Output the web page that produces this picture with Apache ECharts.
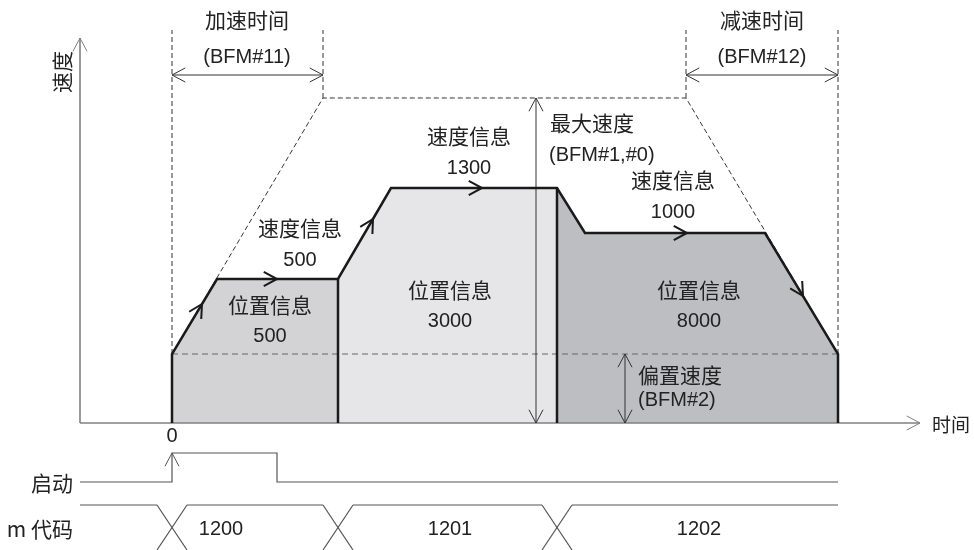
<!DOCTYPE html>
<html>
<head>
<meta charset="utf-8">
<script src="https://cdn.jsdelivr.net/npm/echarts@6/dist/echarts.min.js"></script>
<style>
  html, body { margin: 0; padding: 0; background: #fff; }
  #chart { width: 974px; height: 550px; }
</style>
</head>
<body>
<div id="chart"></div>
<script>
// 速度曲线 (时间, 速度)，图示单位
const profileTime  = [0, 0, 45, 166, 219, 385, 413, 593, 666, 666];
const profileSpeed = [0, 69, 144, 144, 235, 235, 190, 190, 69, 0];
const segmentBounds = [0, 166, 385, 666];   // 各段起止时间
const biasSpeed = 69;
const maxSpeed = 325;
const accelEnd = 151;       // 加速时间结束
const decelStart = 514;     // 减速时间开始
const positionInfo = ['500', '3000', '8000'];
const speedInfo = ['500', '1300', '1000'];
const mCodes = ['1200', '1201', '1202'];
const startPulse = [0, 105];   // 启动 ON / OFF

// 布局 (不是数据)
const regionColors = ['#d3d3d5', '#e6e6e8', '#bdbec1'];
const posLabelAt = [[98, 118], [278, 133], [527, 133]];
const speedLabelAt = [[128, 195], [297, 287], [501, 243]];
const mCodeLabelT = [49, 278, 527];
const axisT = -92, axisTop = 385, axisRight = 748, dashTop = 393, spanArrowV = 348;
const lowV = -59, highV = -30, mTop = -82, mBot = -127, mHalf = 15;

const profile = profileTime.map((t, i) => [t, profileSpeed[i]]);

// 三段区域
const regions = [];
for (let i = 0; i < segmentBounds.length - 1; i++) {
  const a = segmentBounds[i], b = segmentBounds[i + 1];
  const pts = profile.filter(p => p[0] >= a && p[0] <= b && p[1] > 0);
  regions.push([[a, 0]].concat(pts, [[b, 0]]));
}

const thin = '#333';
const dash = [5, 3];
const lines = [
  // 坐标轴
  { pts: [[axisT, 0], [axisT, axisTop]], color: '#808080', width: 1.6 },
  { pts: [[axisT, 0], [axisRight, 0]], color: '#808080', width: 1.6 },
  // 偏置速度虚线
  { pts: [[0, biasSpeed], [segmentBounds[3], biasSpeed]], color: '#666', width: 1.2, dash: [6, 4] },
  // 梯形虚线
  { pts: [[0, biasSpeed], [accelEnd, maxSpeed], [decelStart, maxSpeed], [segmentBounds[3], biasSpeed]], color: thin, width: 1, dash: dash },
  { pts: [[0, biasSpeed], [0, dashTop]], color: thin, width: 1, dash: dash },
  { pts: [[accelEnd, maxSpeed], [accelEnd, dashTop]], color: thin, width: 1, dash: dash },
  { pts: [[decelStart, maxSpeed], [decelStart, dashTop]], color: thin, width: 1, dash: dash },
  { pts: [[segmentBounds[3], biasSpeed], [segmentBounds[3], dashTop]], color: thin, width: 1, dash: dash },
  // 尺寸箭头线
  { pts: [[0, spanArrowV], [accelEnd, spanArrowV]], color: thin, width: 1 },
  { pts: [[decelStart, spanArrowV], [segmentBounds[3], spanArrowV]], color: thin, width: 1 },
  { pts: [[364, 0], [364, maxSpeed]], color: thin, width: 1 },
  { pts: [[453, 0], [453, biasSpeed]], color: thin, width: 1 },
  // 速度曲线轮廓
  { pts: profile, color: '#1a1a1a', width: 2.5 },
  { pts: [[segmentBounds[1], 0], [segmentBounds[1], profileSpeed[3]]], color: '#1a1a1a', width: 2.5 },
  { pts: [[segmentBounds[2], 0], [segmentBounds[2], profileSpeed[5]]], color: '#1a1a1a', width: 2.5 },
  // 启动
  { pts: [[axisT, lowV], [startPulse[0], lowV], [startPulse[0], highV], [startPulse[1], highV], [startPulse[1], lowV], [segmentBounds[3], lowV]], color: '#555', width: 1.2 }
];
// m代码
const cross = segmentBounds.slice(0, 3);
let prev = axisT;
cross.forEach(c => {
  lines.push({ pts: [[prev, mTop], [c - mHalf, mTop]], color: '#555', width: 1.2 });
  lines.push({ pts: [[c - mHalf, mTop], [c + mHalf, mBot]], color: '#555', width: 1.2 });
  lines.push({ pts: [[c + mHalf, mTop], [c - mHalf, mBot]], color: '#555', width: 1.2 });
  prev = c + mHalf;
});
lines.push({ pts: [[prev, mTop], [segmentBounds[3], mTop]], color: '#555', width: 1.2 });

// 箭头 (from -> to, to 为箭头尖)
const heads = [
  { from: [axisT, 0], to: [axisT, axisTop], color: '#808080' },
  { from: [axisT, 0], to: [axisRight, 0], color: '#808080' },
  { from: [accelEnd, spanArrowV], to: [0, spanArrowV] },
  { from: [0, spanArrowV], to: [accelEnd, spanArrowV] },
  { from: [segmentBounds[3], spanArrowV], to: [decelStart, spanArrowV] },
  { from: [decelStart, spanArrowV], to: [segmentBounds[3], spanArrowV] },
  { from: [364, 0], to: [364, maxSpeed] },
  { from: [364, maxSpeed], to: [364, 0] },
  { from: [453, 0], to: [453, biasSpeed] },
  { from: [453, biasSpeed], to: [453, 0] },
  { from: [0, lowV], to: [0, highV], color: '#555' },
  // 方向
  { from: [0, 69], to: [30, 119], color: '#1a1a1a', width: 2 },
  { from: [45, 144], to: [105, 144], color: '#1a1a1a', width: 2 },
  { from: [166, 144], to: [201, 204], color: '#1a1a1a', width: 2 },
  { from: [219, 235], to: [310, 235], color: '#1a1a1a', width: 2 },
  { from: [413, 190], to: [515, 190], color: '#1a1a1a', width: 2 },
  { from: [593, 190], to: [631, 127], color: '#1a1a1a', width: 2 }
];

const CJK = '"Noto Sans CJK SC"';
const LAT = '"Liberation Sans", Arial';
const texts = [
  { p: [-110, 351], s: '速度', f: CJK, size: 21, rot: Math.PI / 2 },
  { p: [760, -2], s: '时间', f: CJK, size: 19, align: 'left' },
  { p: [75, 403], s: '加速时间', f: CJK },
  { p: [75, 366], s: '(BFM#11)', f: LAT },
  { p: [590, 403], s: '减速时间', f: CJK },
  { p: [590, 366], s: '(BFM#12)', f: LAT },
  { p: [378, 300], s: '最大速度', f: CJK, align: 'left' },
  { p: [377, 268], s: '(BFM#1,#0)', f: LAT, align: 'left' },
  { p: [466, 48], s: '偏置速度', f: CJK, align: 'left' },
  { p: [466, 23], s: '(BFM#2)', f: LAT, align: 'left' },
  { p: [0, -13], s: '0', f: LAT },
  { p: [-99, -60], s: '启动', f: CJK, align: 'right' },
  { p: [-99, -106], s: 'm 代码', f: CJK, align: 'right' }
];
positionInfo.forEach((v, i) => {
  texts.push({ p: posLabelAt[i], s: '位置信息', f: CJK });
  texts.push({ p: [posLabelAt[i][0], posLabelAt[i][1] - 31], s: v, f: LAT });
});
speedInfo.forEach((v, i) => {
  texts.push({ p: speedLabelAt[i], s: '速度信息', f: CJK });
  texts.push({ p: [speedLabelAt[i][0], speedLabelAt[i][1] - 32], s: v, f: LAT });
});
mCodes.forEach((v, i) => {
  texts.push({ p: [mCodeLabelT[i], -106], s: v, f: LAT });
});

function arrowHead(api, h) {
  const a = api.coord(h.from), b = api.coord(h.to);
  const dx = b[0] - a[0], dy = b[1] - a[1], d = Math.hypot(dx, dy);
  const ux = dx / d, uy = dy / d;
  const ang = 28 * Math.PI / 180, len = 15;
  const c = Math.cos(ang), s = Math.sin(ang);
  const p1 = [b[0] - len * (ux * c - uy * s), b[1] - len * (uy * c + ux * s)];
  const p2 = [b[0] - len * (ux * c + uy * s), b[1] - len * (uy * c - ux * s)];
  return {
    type: 'polyline',
    shape: { points: [p1, b, p2] },
    style: { stroke: h.color || thin, lineWidth: h.width || 1, fill: 'none' }
  };
}

const chart = echarts.init(document.getElementById('chart'));
const option = {
  animation: false,
  grid: { left: 0, right: 0, top: 0, bottom: 0 },
  xAxis: { type: 'value', min: -172, max: 802, show: false },
  yAxis: { type: 'value', min: -127, max: 423, show: false },
  series: [
    {
      type: 'custom', silent: true,
      data: regions.map((r, i) => [i]),
      renderItem(params, api) {
        const pts = regions[params.dataIndex].map(p => api.coord(p));
        return { type: 'polygon', shape: { points: pts }, style: { fill: regionColors[params.dataIndex], stroke: 'none' } };
      }
    },
    {
      type: 'custom', silent: true,
      data: lines.map((l, i) => [i]),
      renderItem(params, api) {
        const l = lines[params.dataIndex];
        return {
          type: 'polyline',
          shape: { points: l.pts.map(p => api.coord(p)) },
          style: { stroke: l.color, lineWidth: l.width, lineDash: l.dash || null, fill: 'none' }
        };
      }
    },
    {
      type: 'custom', silent: true,
      data: heads.map((h, i) => [i]),
      renderItem(params, api) {
        return arrowHead(api, heads[params.dataIndex]);
      }
    },
    {
      type: 'custom', silent: true,
      data: texts.map((t, i) => [i]),
      renderItem(params, api) {
        const t = texts[params.dataIndex];
        const c = api.coord(t.p);
        return {
          type: 'text', x: c[0], y: c[1], rotation: t.rot || 0,
          style: {
            text: t.s, fill: '#222',
            font: (t.size || (t.f === CJK ? 21 : 20)) + 'px ' + t.f,
            align: t.align || 'center', verticalAlign: 'middle'
          }
        };
      }
    }
  ]
};
chart.setOption(option);
window.addEventListener('resize', () => { chart.resize(); });
</script>
</body>
</html>
